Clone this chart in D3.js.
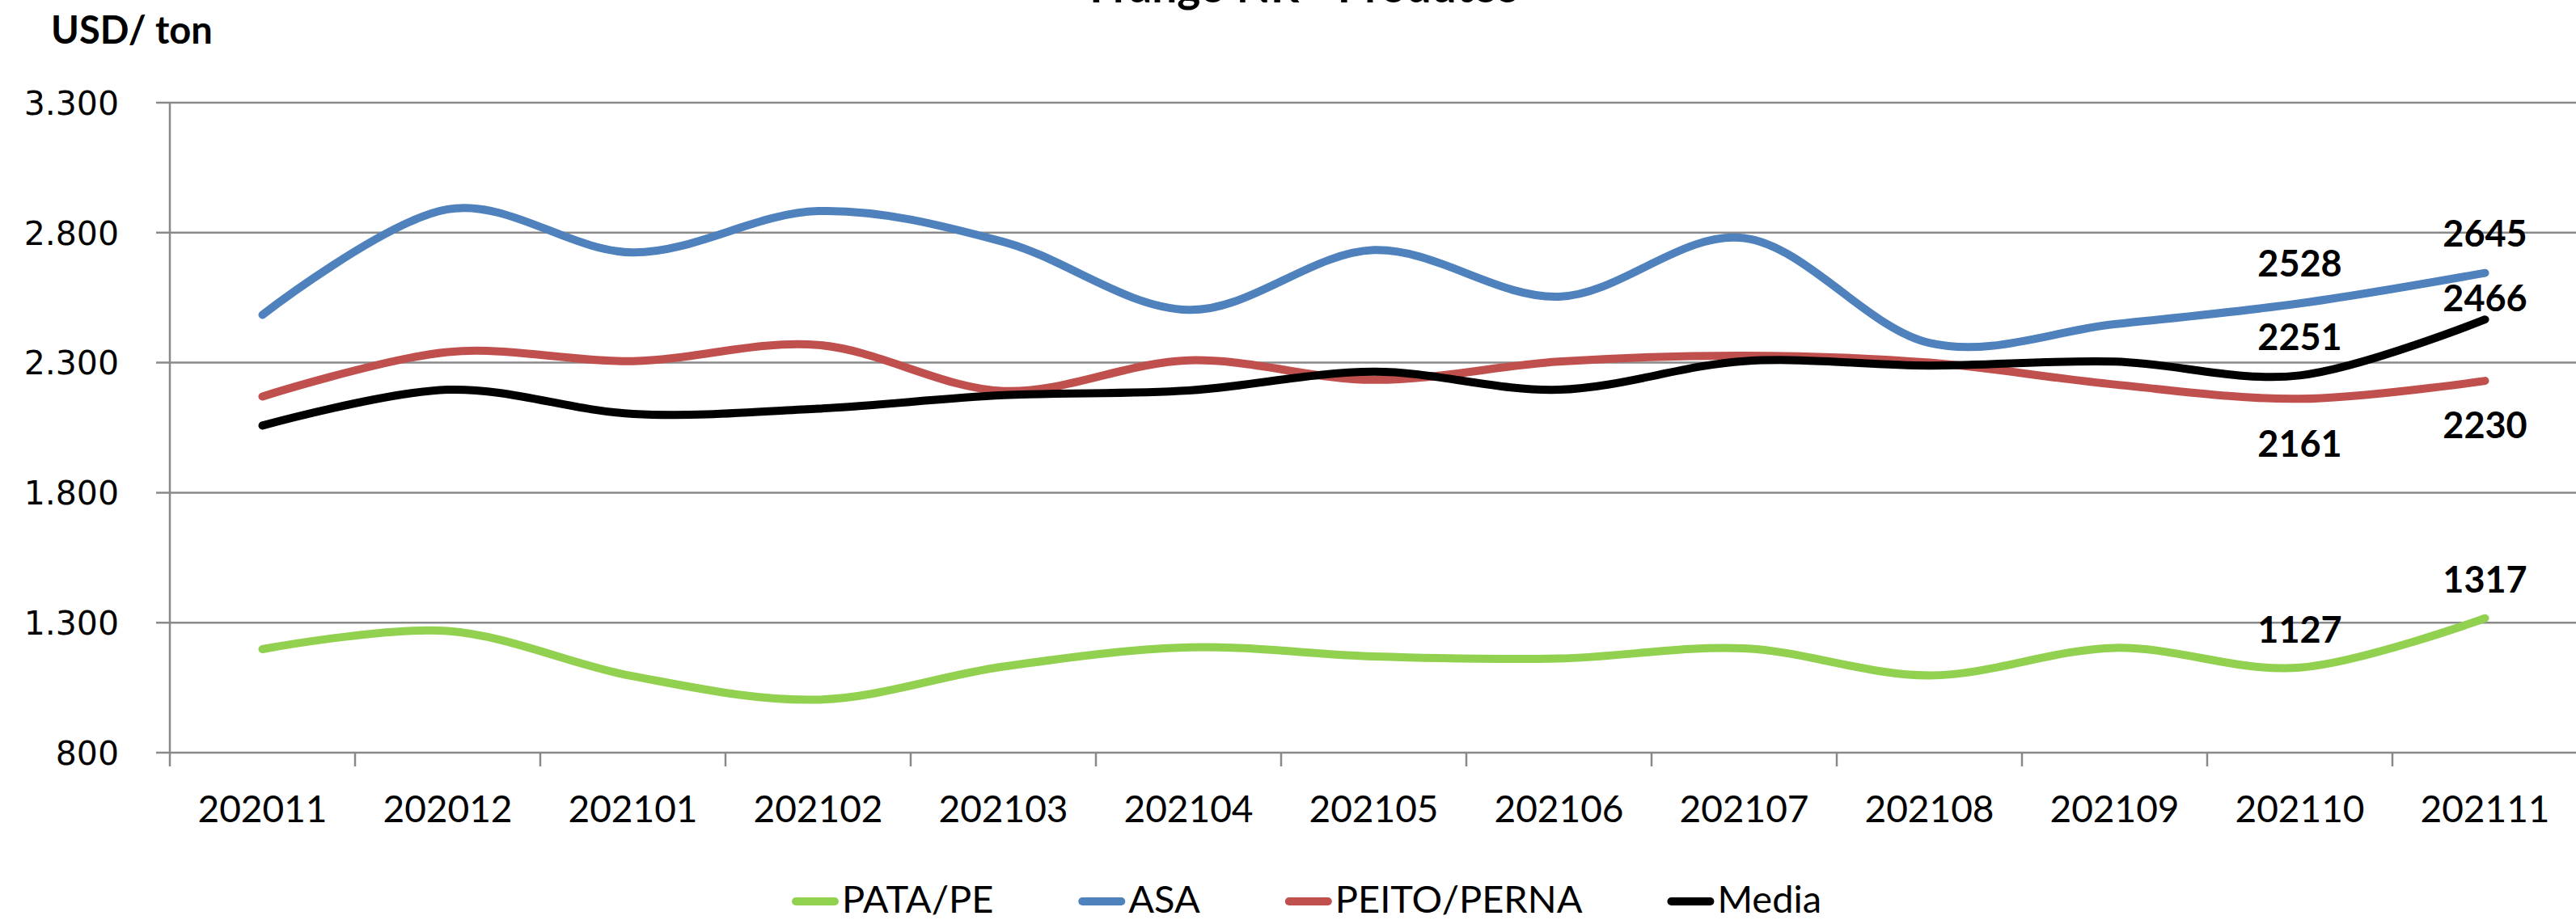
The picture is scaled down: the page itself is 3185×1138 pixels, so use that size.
<!DOCTYPE html>
<html>
<head>
<meta charset="utf-8">
<script src="https://cdn.jsdelivr.net/npm/d3@7"></script>
<style>
  html, body { margin: 0; padding: 0; background: #fff; }
  svg { display: block; }
</style>
</head>
<body>
<svg id="chart"></svg>
<script>
// Chart data
const months = ['202011', '202012', '202101', '202102', '202103', '202104', '202105',
                '202106', '202107', '202108', '202109', '202110', '202111'];
const pataPe    = [1198, 1268, 1094, 1004, 1131, 1205, 1170, 1162, 1201, 1097, 1203, 1127, 1317];
const asa       = [2484, 2890, 2724, 2883, 2765, 2503, 2733, 2554, 2779, 2376, 2448, 2528, 2645];
const peitoPerna = [2170, 2341, 2306, 2368, 2191, 2309, 2234, 2304, 2327, 2300, 2216, 2161, 2230];
const media     = [2058, 2196, 2103, 2123, 2175, 2193, 2265, 2196, 2306, 2289, 2304, 2251, 2466];
const yTicks = [800, 1300, 1800, 2300, 2800, 3300];

const series = [
    { name: 'PATA/PE', values: pataPe, color: '#92D050' },
    { name: 'ASA', values: asa, color: '#4F81BD' },
    { name: 'PEITO/PERNA', values: peitoPerna, color: '#C0504D' },
    { name: 'Media', values: media, color: '#000000' }
];

// which points get a value label (last two months), and where it sits
const labelIdx = [11, 12];
const labelDy = {
    'PATA/PE': [-31, -32],
    'ASA': [-33, -33],
    'PEITO/PERNA': [72, 71],
    'Media': [-31, -10]
};

const width = 3185, height = 1138;
const plotLeft = 210, plotRight = 3187, plotTop = 127, plotBottom = 931;

const svg = d3.select('#chart')
    .attr('width', width)
    .attr('height', height);

const x = d3.scaleBand().domain(months).range([plotLeft, plotRight]);
const y = d3.scaleLinear().domain([800, 3300]).range([plotBottom, plotTop]);

// Title (mostly cut off at the top edge, as in the source)
svg.append('text')
    .attr('x', 1612)
    .attr('y', 3)
    .attr('text-anchor', 'middle')
    .style('font-family', 'Lato, sans-serif')
    .style('font-weight', 'bold')
    .style('font-size', '55px')
    .text('Frango NR - Produtos');

// Unit label
svg.append('text')
    .attr('x', 63)
    .attr('y', 54)
    .style('font-family', 'Lato, sans-serif')
    .style('font-weight', 'bold')
    .style('font-size', '47px')
    .text('USD/ ton');

// Gridlines
svg.append('g')
    .selectAll('line')
    .data(yTicks)
    .enter().append('line')
    .attr('x1', plotLeft - 17)
    .attr('x2', plotRight)
    .attr('y1', d => y(d))
    .attr('y2', d => y(d))
    .attr('stroke', '#898989')
    .attr('stroke-width', 2.5);

// Y axis line
svg.append('line')
    .attr('x1', plotLeft).attr('x2', plotLeft)
    .attr('y1', plotTop).attr('y2', plotBottom + 17)
    .attr('stroke', '#898989')
    .attr('stroke-width', 2.5);

// X axis ticks between categories
svg.append('g')
    .selectAll('line')
    .data(months.slice(1))
    .enter().append('line')
    .attr('x1', d => x(d))
    .attr('x2', d => x(d))
    .attr('y1', plotBottom)
    .attr('y2', plotBottom + 17)
    .attr('stroke', '#898989')
    .attr('stroke-width', 2.5);

// Y tick labels
svg.append('g')
    .selectAll('text')
    .data(yTicks)
    .enter().append('text')
    .attr('x', 147)
    .attr('y', d => y(d))
    .attr('dy', '0.36em')
    .attr('text-anchor', 'end')
    .style('font-family', '"DejaVu Sans", sans-serif')
    .style('font-size', '41px')
    .text(d => d3.format(',')(d).replace(',', '.'));

// X tick labels
svg.append('g')
    .selectAll('text')
    .data(months)
    .enter().append('text')
    .attr('x', d => x(d) + x.bandwidth() / 2)
    .attr('y', 1017)
    .attr('text-anchor', 'middle')
    .style('font-family', 'Lato, sans-serif')
    .style('font-size', '46px')
    .text(d => d);

// Lines
const line = d3.line()
    .x((d, i) => x(months[i]) + x.bandwidth() / 2)
    .y(d => y(d))
    .curve(d3.curveCatmullRom.alpha(0));

svg.append('g')
    .selectAll('path')
    .data(series)
    .enter().append('path')
    .attr('d', d => line(d.values))
    .attr('fill', 'none')
    .attr('stroke', d => d.color)
    .attr('stroke-width', 10)
    .attr('stroke-linecap', 'round')
    .attr('stroke-linejoin', 'round');

// Value labels
series.forEach(s => {
    labelIdx.forEach((idx, k) => {
        svg.append('text')
            .attr('x', x(months[idx]) + x.bandwidth() / 2)
            .attr('y', y(s.values[idx]) + labelDy[s.name][k])
            .attr('text-anchor', 'middle')
            .style('font-family', 'Lato, sans-serif')
            .style('font-weight', 'bold')
            .style('font-size', '45px')
            .text(s.values[idx]);
    });
});

// Legend
const legend = svg.append('g');
let lx = 979;
series.forEach(s => {
    legend.append('line')
        .attr('x1', lx + 5).attr('x2', lx + 53)
        .attr('y1', 1115).attr('y2', 1115)
        .attr('stroke', s.color)
        .attr('stroke-width', 10)
        .attr('stroke-linecap', 'round');
    const t = legend.append('text')
        .attr('x', lx + 62)
        .attr('y', 1129)
        .style('font-family', 'Lato, sans-serif')
        .style('font-size', '47px')
        .text(s.name);
    lx += 62 + t.node().getComputedTextLength() + 105;
});
</script>
</body>
</html>
